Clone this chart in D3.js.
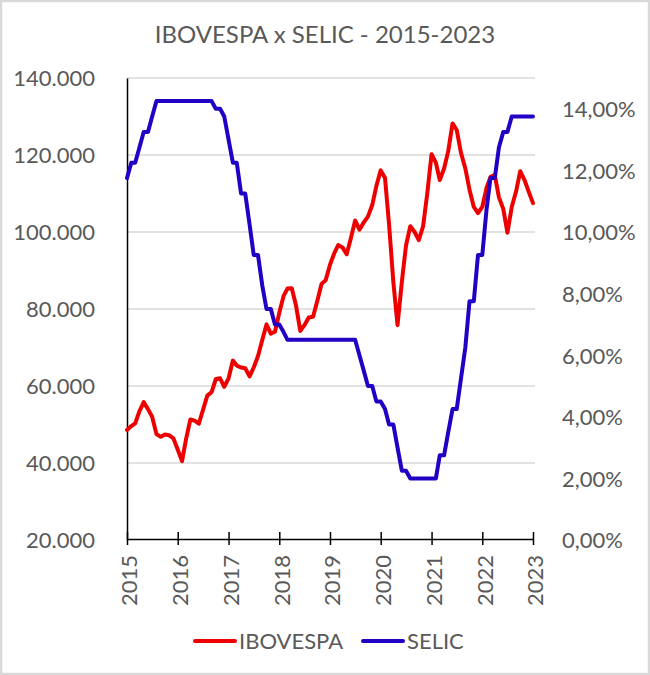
<!DOCTYPE html>
<html>
<head>
<meta charset="utf-8">
<script src="https://cdn.jsdelivr.net/npm/d3@7/dist/d3.min.js"></script>
<style>
  html, body { margin: 0; padding: 0; background: #fff; }
  svg { display: block; font-family: Lato, "Open Sans", sans-serif; }
</style>
</head>
<body>
<script>
// dados mensais, jan/2015 ate jan/2023
var startYear = 2015;
var yearLabels = ['2015', '2016', '2017', '2018', '2019', '2020', '2021', '2022', '2023'];

var ibovespa = [
    48600, 49600, 50300, 53500, 55800, 54000, 52000, 47500, 46800, 47400,
    47200, 46400, 43500, 40500, 46200, 51300, 51000, 50200, 53800, 57500,
    58400, 61800, 62000, 59800, 62000, 66600, 65300, 64800, 64600, 62500,
    64800, 67800, 72000, 76000, 73600, 74100, 79000, 83400, 85300, 85400,
    81000, 74300, 75800, 77800, 78000, 82000, 86500, 87500, 91500, 94500,
    96600, 96000, 94200, 98500, 103000, 100600, 102500, 104000, 107000, 112000,
    116000, 114000, 102000, 87000, 75800, 87000, 96500, 101500, 100000, 97900,
    101500, 110000, 120200, 118000, 113500, 116500, 121000, 128200, 126500, 120500,
    116500, 111000, 106500, 104900, 106500, 111500, 114300, 114800, 109000, 106000,
    99800, 106500, 110500, 115800, 113500, 110500, 107500
];

var selic = [
    11.75, 12.25, 12.25, 12.75, 13.25, 13.25, 13.75, 14.25, 14.25, 14.25,
    14.25, 14.25, 14.25, 14.25, 14.25, 14.25, 14.25, 14.25, 14.25, 14.25,
    14.25, 14.00, 14.00, 13.75, 13.00, 12.25, 12.25, 11.25, 11.25, 10.25,
    9.25, 9.25, 8.25, 7.50, 7.50, 7.00, 7.00, 6.75, 6.50, 6.50,
    6.50, 6.50, 6.50, 6.50, 6.50, 6.50, 6.50, 6.50, 6.50, 6.50,
    6.50, 6.50, 6.50, 6.50, 6.50, 6.00, 5.50, 5.00, 5.00, 4.50,
    4.50, 4.25, 3.75, 3.75, 3.00, 2.25, 2.25, 2.00, 2.00, 2.00,
    2.00, 2.00, 2.00, 2.00, 2.75, 2.75, 3.50, 4.25, 4.25, 5.25,
    6.25, 7.75, 7.75, 9.25, 9.25, 10.75, 11.75, 11.75, 12.75, 13.25,
    13.25, 13.75, 13.75, 13.75, 13.75, 13.75, 13.75
];

var leftTicks = [20000, 40000, 60000, 80000, 100000, 120000, 140000];
var rightTicks = [0, 2, 4, 6, 8, 10, 12, 14];

window.onload = function(){

    var svg = createSVG();
    setBaseValue();
    drawFrame(svg);
    drawAxes(svg);
    drawLines(svg);
    drawLegend(svg);

    /***********************************************/
    function createSVG(){
        return d3.select(document.body).append('svg')
            .attr('width', 650)
            .attr('height', 675);
    }

    function setBaseValue(){
        window.base = {};
        base.left = 127;
        base.right = 533;
        base.top = 78;
        base.bottom = 540;
        base.textColor = '#595959';
        base.fontSize = 22;

        // cada ponto e o primeiro dia do mes
        base.dates = ibovespa.map(function(d, i){ return new Date(startYear, i, 1); });

        base.x = d3.scaleTime()
            .domain([base.dates[0], base.dates[base.dates.length - 1]])
            .range([base.left, base.right]);
        base.yLeft = d3.scaleLinear().domain([20000, 140000]).range([base.bottom, base.top]);
        base.yRight = d3.scaleLinear().domain([0, 15]).range([base.bottom, base.top]);

        var ptBR = d3.formatLocale({decimal: ',', thousands: '.', grouping: [3], currency: ['R$', '']});
        base.fmtLeft = ptBR.format(',.0f');
        base.fmtRight = function(v){ return ptBR.format('.2f')(v) + '%'; };
    }

    function drawFrame(svg){
        svg.append('rect')
            .attr('x', 1).attr('y', 1)
            .attr('width', 648).attr('height', 673)
            .attr('fill', '#fff')
            .attr('stroke', '#d9d9d9')
            .attr('stroke-width', 2.5);

        svg.append('text')
            .attr('x', 325).attr('y', 43)
            .attr('text-anchor', 'middle')
            .attr('fill', base.textColor)
            .style('font-size', '24px')
            .text('IBOVESPA x SELIC - 2015-2023');
    }

    function drawAxes(svg){
        // linhas de grade
        svg.append('g').selectAll('line')
            .data(leftTicks.slice(1)).enter()
            .append('line')
            .attr('x1', base.left).attr('x2', base.right + 2)
            .attr('y1', function(d){ return base.yLeft(d); })
            .attr('y2', function(d){ return base.yLeft(d); })
            .attr('stroke', '#d9d9d9')
            .attr('stroke-width', 1.5);

        // eixo esquerdo
        var gl = svg.append('g')
            .attr('transform', 'translate(' + base.left + ',0)')
            .call(d3.axisLeft(base.yLeft).tickValues(leftTicks).tickFormat(base.fmtLeft).tickSize(0).tickPadding(32));
        gl.select('.domain').attr('stroke', '#000').attr('stroke-width', 1.5);
        gl.selectAll('text')
            .attr('fill', base.textColor)
            .attr('dy', '0.36em')
            .style('font-size', base.fontSize + 'px')
            .style('font-family', 'Lato, "Open Sans", sans-serif');

        // eixo direito (sem linha)
        var gr = svg.append('g')
            .attr('transform', 'translate(' + base.right + ',0)')
            .call(d3.axisRight(base.yRight).tickValues(rightTicks).tickFormat(base.fmtRight).tickSize(0).tickPadding(29));
        gr.select('.domain').remove();
        gr.selectAll('text')
            .attr('fill', base.textColor)
            .attr('dy', '0.36em')
            .style('font-size', base.fontSize + 'px')
            .style('font-family', 'Lato, "Open Sans", sans-serif');

        // eixo x
        var yearDates = yearLabels.map(function(y){ return new Date(+y, 0, 1); });
        var gx = svg.append('g')
            .attr('transform', 'translate(0,' + (base.bottom - 1) + ')')
            .call(d3.axisBottom(base.x).tickValues(yearDates)
                .tickFormat(function(d, i){ return yearLabels[i]; })
                .tickSizeOuter(0).tickSizeInner(6));
        gx.select('.domain').attr('stroke', '#000').attr('stroke-width', 1.5);
        gx.selectAll('.tick line')
            .attr('y1', -7).attr('y2', 6)
            .attr('stroke', '#000').attr('stroke-width', 1.5);
        gx.selectAll('.tick text')
            .attr('fill', base.textColor)
            .attr('transform', 'rotate(-90)')
            .attr('text-anchor', 'end')
            .attr('x', -16).attr('y', 0).attr('dy', '0.36em').attr('dx', 0)
            .style('font-size', base.fontSize + 'px')
            .style('font-family', 'Lato, "Open Sans", sans-serif');
        gx.selectAll('.tick text')
            .attr('transform', 'translate(2,0) rotate(-90)');
    }

    function drawLines(svg){
        var ibovLine = d3.line()
            .x(function(d, i){ return base.x(base.dates[i]); })
            .y(function(d){ return base.yLeft(d); });
        var selicLine = d3.line()
            .x(function(d, i){ return base.x(base.dates[i]); })
            .y(function(d){ return base.yRight(d); });

        svg.append('path')
            .datum(ibovespa)
            .attr('d', ibovLine)
            .attr('fill', 'none')
            .attr('stroke', '#ee0000')
            .attr('stroke-width', 4)
            .attr('stroke-linejoin', 'round')
            .attr('stroke-linecap', 'round');

        svg.append('path')
            .datum(selic)
            .attr('d', selicLine)
            .attr('fill', 'none')
            .attr('stroke', '#2200c4')
            .attr('stroke-width', 4)
            .attr('stroke-linejoin', 'round')
            .attr('stroke-linecap', 'round');
    }

    function drawLegend(svg){
        var items = [
            {name: 'IBOVESPA', color: '#ee0000', x: 195},
            {name: 'SELIC', color: '#2200c4', x: 363}
        ];
        var g = svg.append('g').selectAll('g').data(items).enter().append('g');
        g.append('line')
            .attr('x1', function(d){ return d.x; })
            .attr('x2', function(d){ return d.x + 40; })
            .attr('y1', 641).attr('y2', 641)
            .attr('stroke', function(d){ return d.color; })
            .attr('stroke-width', 4)
            .attr('stroke-linecap', 'round');
        g.append('text')
            .attr('x', function(d){ return d.x + 44; })
            .attr('y', 648.5)
            .attr('fill', base.textColor)
            .style('font-size', base.fontSize + 'px')
            .text(function(d){ return d.name; });
    }
}
</script>
</body>
</html>
